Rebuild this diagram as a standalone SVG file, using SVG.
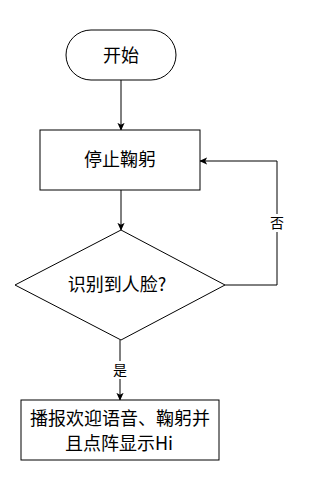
<svg xmlns="http://www.w3.org/2000/svg" width="326" height="500" viewBox="0 0 326 500">
<defs>
<marker id="arr" viewBox="0 0 10 10" refX="9" refY="5" markerWidth="8" markerHeight="8" markerUnits="userSpaceOnUse" orient="auto">
<path d="M0,0.5 L10,5 L0,9.5 L2.5,5 Z" fill="#000"/>
</marker>
<style>
.s{fill:#fff;stroke:#000;stroke-width:1}
.t{font-family:"Noto Sans CJK SC","Noto Sans",sans-serif;font-size:18px;fill:#000;text-anchor:middle}
.l{font-family:"Noto Sans CJK SC","Noto Sans",sans-serif;font-size:14px;fill:#000;text-anchor:middle}
.c{fill:none;stroke:#000;stroke-width:1;marker-end:url(#arr)}
</style>
</defs>
<rect width="326" height="500" fill="#fff"/>
<g id="connectors">
<path class="c" d="M121,80 L121,130"/>
<path class="c" d="M121,190 L121,230"/>
<path class="c" d="M225,285 L277,285 L277,161 L200,161"/>
<rect x="268" y="214" width="18" height="18" fill="#fff"/>
<text class="l" x="277" y="228">否</text>
<path class="c" d="M120,340 L120,400"/>
<rect x="111" y="361" width="18" height="18" fill="#fff"/>
<text class="l" x="120" y="375">是</text>
</g>
<g id="start">
<rect class="s" x="66" y="30" width="110" height="50" rx="25" ry="25"/>
<text class="t" x="121" y="62">开始</text>
</g>
<g id="stop">
<rect class="s" x="40" y="130" width="160" height="60"/>
<text class="t" x="120" y="166">停止鞠躬</text>
</g>
<g id="decision">
<polygon class="s" points="121,230 225,285 121,340 15,285"/>
<text class="t" x="117" y="291">识别到人脸?</text>
</g>
<g id="action">
<rect class="s" x="21" y="400" width="198" height="60"/>
<text class="t" x="120" y="425">播报欢迎语音、鞠躬并</text>
<text class="t" x="119" y="450">且点阵显示Hi</text>
</g>
</svg>
